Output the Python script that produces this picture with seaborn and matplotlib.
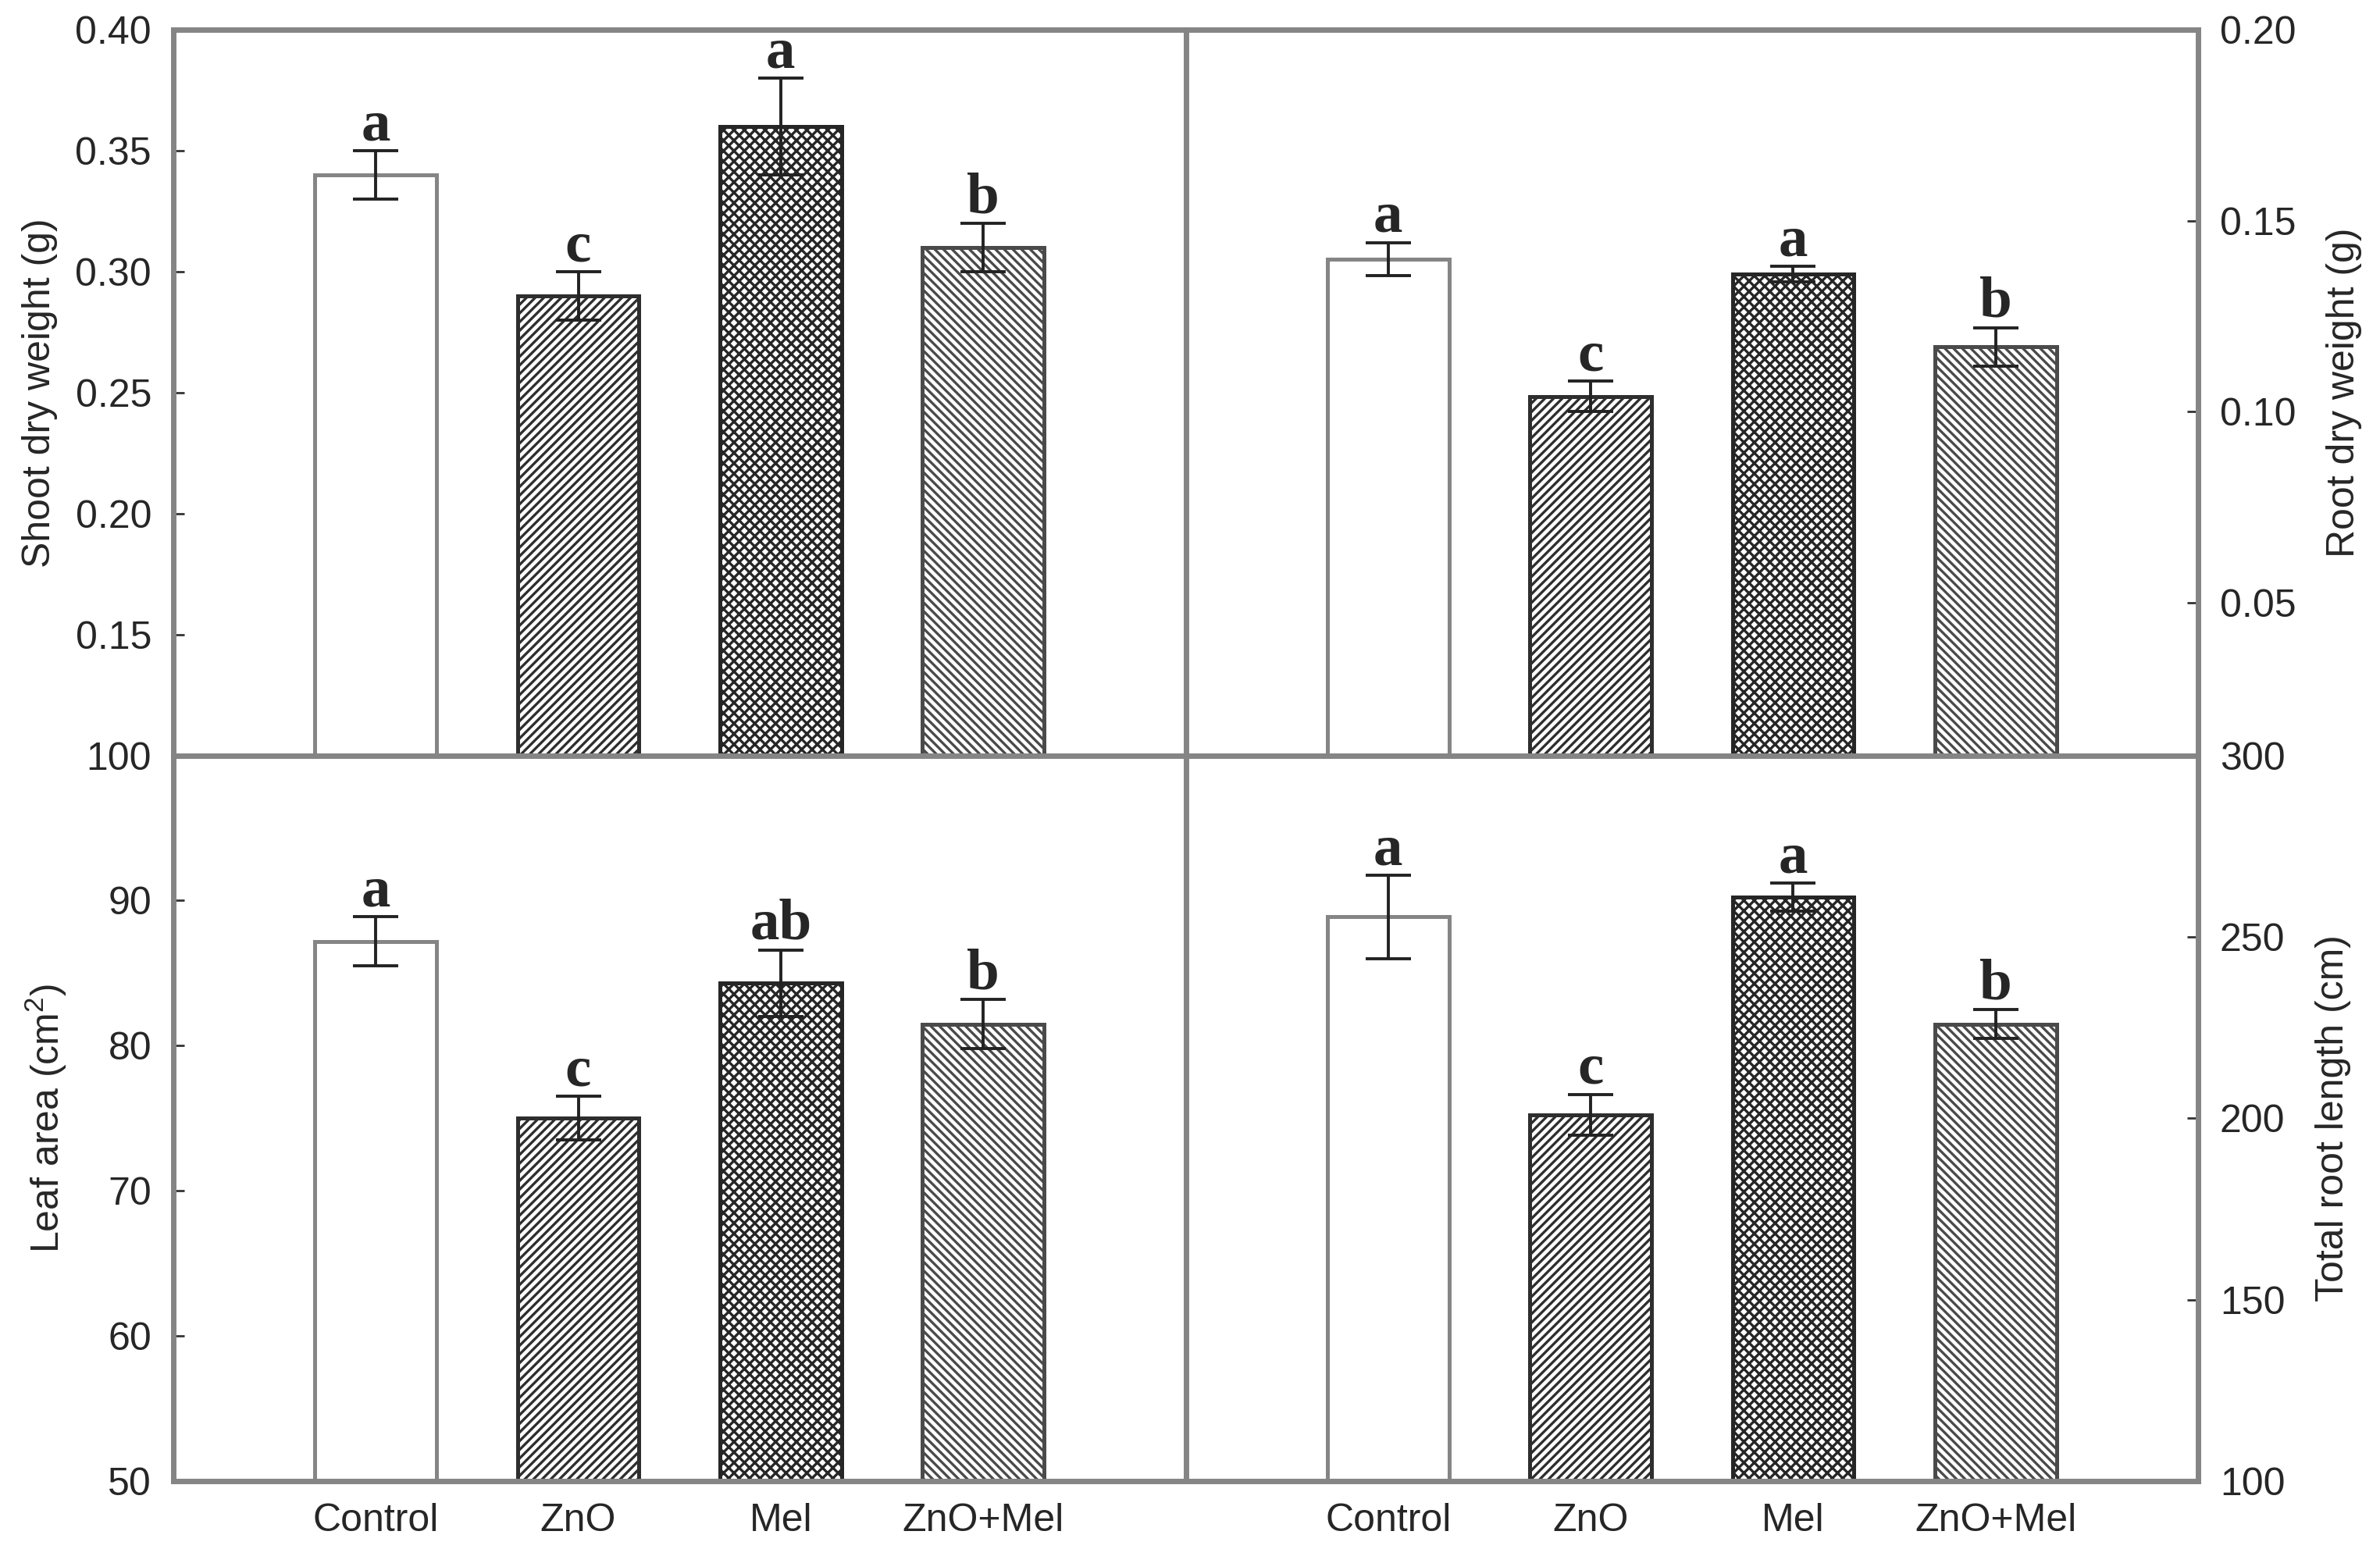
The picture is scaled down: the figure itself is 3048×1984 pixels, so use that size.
"""
Growth traits under ZnO / melatonin treatments (2x2 bar panels)
"""
import matplotlib
matplotlib.use('Agg')
import matplotlib.pyplot as plt
import seaborn as sns
import numpy as np

treatments = ['Control', 'ZnO', 'Mel', 'ZnO+Mel']

shoot_dw = [0.34, 0.29, 0.36, 0.31]
shoot_dw_se = [0.010, 0.010, 0.020, 0.010]
shoot_dw_letters = ['a', 'c', 'a', 'b']

root_dw = [0.140, 0.104, 0.136, 0.117]
root_dw_se = [0.0043, 0.004, 0.002, 0.005]
root_dw_letters = ['a', 'c', 'a', 'b']

leaf_area = [87.2, 75.0, 84.3, 81.5]
leaf_area_se = [1.7, 1.5, 2.3, 1.7]
leaf_area_letters = ['a', 'c', 'ab', 'b']

root_len = [255.5, 201.0, 261.0, 226.0]
root_len_se = [11.5, 5.6, 3.8, 4.0]
root_len_letters = ['a', 'c', 'a', 'b']

sns.set_style("ticks")
plt.rcParams['font.family'] = ['Liberation Sans', 'DejaVu Sans']
plt.rcParams['hatch.linewidth'] = 1.2
plt.rcParams['mathtext.fontset'] = 'custom'
plt.rcParams['mathtext.rm'] = 'Liberation Sans'

spine_color = '#858585'
# (hatch, edge/hatch colour) per treatment
styles = [('', spine_color), ('//////', '#2e2e2e'), ('xxxxx', '#262626'), ('\\\\\\\\\\\\', '#4a4a4a')]

fig, axes = plt.subplots(2, 2, figsize=(15.24, 9.92), dpi=200)
plt.subplots_adjust(left=0.0728, right=0.9236, top=0.9808, bottom=0.0438,
                    wspace=0, hspace=0)

panels = [
    (axes[0, 0], shoot_dw, shoot_dw_se, shoot_dw_letters, 'Shoot dry weight (g)',
     (0.10, 0.40), np.arange(0.15, 0.401, 0.05), '{:.2f}', 'left'),
    (axes[0, 1], root_dw, root_dw_se, root_dw_letters, 'Root dry weight (g)',
     (0.01, 0.20), np.arange(0.05, 0.201, 0.05), '{:.2f}', 'right'),
    (axes[1, 0], leaf_area, leaf_area_se, leaf_area_letters, 'Leaf area (cm$^2$)',
     (50, 100), np.arange(50, 101, 10), '{:.0f}', 'left'),
    (axes[1, 1], root_len, root_len_se, root_len_letters, 'Total root length (cm)',
     (100, 300), np.arange(100, 301, 50), '{:.0f}', 'right'),
]

for ax, vals, errs, letters, ylabel, ylim, yticks, fmt, side in panels:
    sns.barplot(x=treatments, y=vals, ax=ax, width=0.6, color='white',
                edgecolor=spine_color, linewidth=1.8, errorbar=None)
    for patch, (hatch, ec) in zip(ax.patches, styles):
        patch.set_facecolor('white')
        patch.set_edgecolor(ec)
        patch.set_hatch(hatch)
    ax.errorbar(range(len(vals)), vals, yerr=errs, fmt='none', ecolor='#222222',
                elinewidth=1.4, capsize=10.5, capthick=1.4, zorder=5)
    for i, (v, e, lab) in enumerate(zip(vals, errs, letters)):
        ax.annotate(lab, (i, v + e), xytext=(0, 5), textcoords='offset points',
                    ha='center', va='baseline', fontsize=27, fontweight='bold',
                    family=['Liberation Serif', 'DejaVu Serif'])

    ax.set_xlim(-1, 4)
    ax.set_ylim(*ylim)
    ax.set_yticks(yticks)
    ax.set_yticklabels([fmt.format(t) for t in yticks], fontsize=18)
    ax.tick_params(axis='y', direction='in', length=5, width=1.0, color='#333333', pad=10)
    ax.tick_params(axis='x', length=0, labelsize=18, pad=10)
    ax.set_xlabel('')
    for sp in ax.spines.values():
        sp.set_visible(True)
        sp.set_color(spine_color)
        sp.set_linewidth(2.5)
    if side == 'right':
        ax.yaxis.tick_right()
        ax.yaxis.set_label_position('right')
        ax.set_ylabel(ylabel, fontsize=18, rotation=90, labelpad=14)
    else:
        ax.set_ylabel(ylabel, fontsize=18, labelpad=8)

for ax in axes[0]:
    ax.set_xticklabels([])

plt.savefig('out.png', dpi=200)
